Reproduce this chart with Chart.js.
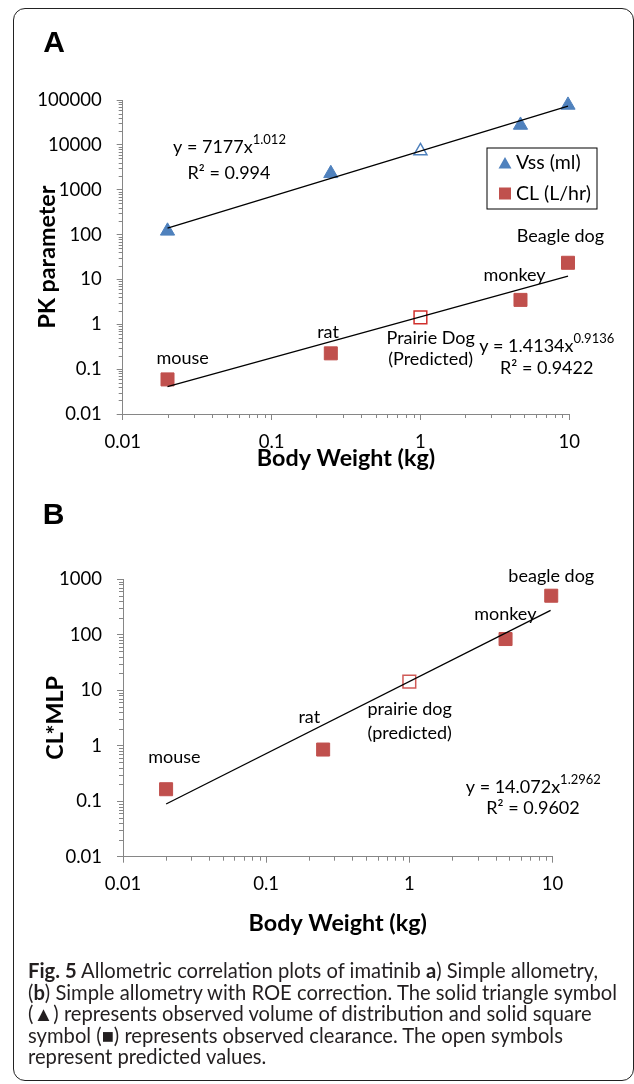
<!DOCTYPE html>
<html>
<head>
<meta charset="utf-8">
<script src="https://cdn.jsdelivr.net/npm/chart.js@4.4.1/dist/chart.umd.min.js"></script>
<style>
  html, body { margin: 0; padding: 0; background: #fff; }
  body { width: 634px; height: 1084px; position: relative; overflow: hidden; font-family: Lato, sans-serif; }
  #frame { position: absolute; left: 13px; top: 8px; width: 621px; height: 1073px; border: 1.5px solid #222; border-radius: 12px; box-sizing: border-box; }
  canvas { position: absolute; left: 0; }
  #chartA { top: 0; }
  #chartB { top: 480px; }
  #caption { position: absolute; left: 28px; top: 960px; width: 604px; font-size: 20.2px; line-height: 21.5px; color: #231f20; white-space: nowrap; }
  #caption b { font-weight: 700; }
</style>
</head>
<body>
<div id="frame"></div>
<canvas id="chartA" width="634" height="480"></canvas>
<canvas id="chartB" width="634" height="480"></canvas>
<div id="caption">
  <b>Fig. 5</b> Allometric correlation plots of imatinib <b>a</b>) Simple allometry,<br>
  (<b>b</b>) Simple allometry with ROE correction. The solid triangle symbol<br>
  (▲) represents observed volume of distribution and solid square<br>
  symbol (■) represents observed clearance. The open symbols<br>
  represent predicted values.
</div>
<script>
// axis ticks
const weightTicks = [0.01, 0.1, 1, 10];
const pkTicks = [0.01, 0.1, 1, 10, 100, 1000, 10000, 100000];
const mlpTicks = [0.01, 0.1, 1, 10, 100, 1000];

// observed species: mouse, rat, monkey, beagle dog (kg)
const obsWeight = [0.02, 0.25, 4.7, 9.8];
// predicted species: prairie dog (kg)
const predWeight = [1];

// panel A
const vssObs = [120, 2300, 27500, 77000];
const vssPred = [7300];
const clObs = [0.059, 0.225, 3.5, 23.5];
const clPred = [1.43];
const trendWeightA = [0.02, 9.8];
const vssTrend = [140, 73400];
const clTrend = [0.041, 11.9];

// panel B
const mlpObs = [0.164, 0.85, 83, 500];
const mlpPred = [14.2];
const trendWeightB = [0.02, 9.7];
const mlpTrend = [0.089, 272];

const BLUE = '#4F81BD';
const RED = '#C0504D';
const AXIS = '#868686';
const FONT = 'Lato, "Open Sans", sans-serif';

const pts = (xs, ys) => xs.map((x, i) => ({ x: x, y: ys[i] }));

// small unlabeled ticks between the decades, like Excel's minor ticks
const minorTicks = {
  id: 'minorTicks',
  afterDraw(chart) {
    const ctx = chart.ctx;
    ctx.save();
    ctx.strokeStyle = AXIS;
    ctx.lineWidth = 1;
    ['x', 'y'].forEach(id => {
      const s = chart.scales[id];
      const lo = Math.round(Math.log10(s.min));
      const hi = Math.round(Math.log10(s.max));
      for (let d = lo; d < hi; d++) {
        for (let k = 2; k <= 9; k++) {
          const p = Math.round(s.getPixelForValue(k * Math.pow(10, d))) + 0.5;
          ctx.beginPath();
          if (id === 'x') { ctx.moveTo(p, s.top); ctx.lineTo(p, s.top + 4); }
          else { ctx.moveTo(s.right - 4, p); ctx.lineTo(s.right, p); }
          ctx.stroke();
        }
      }
    });
    ctx.restore();
  }
};

// free text on the canvas: labels, equations, panel letter, legend
function drawText(ctx, item) {
  const base = item.font || ('18px ' + FONT);
  ctx.font = base;
  ctx.fillStyle = '#000';
  ctx.textBaseline = item.baseline || 'middle';
  if (item.sup) {
    const supFont = '13px ' + FONT;
    const w1 = ctx.measureText(item.text).width;
    ctx.font = supFont;
    const w2 = ctx.measureText(item.sup).width;
    const x0 = item.x - (w1 + w2) / 2;
    ctx.font = base;
    ctx.textAlign = 'left';
    ctx.fillText(item.text, x0, item.y);
    ctx.font = supFont;
    ctx.fillText(item.sup, x0 + w1, item.y - 7);
    return;
  }
  ctx.textAlign = item.align || 'center';
  ctx.fillText(item.text, item.x, item.y);
}

function notesPlugin(items, extra) {
  return {
    id: 'notes',
    afterDraw(chart) {
      const ctx = chart.ctx;
      ctx.save();
      items.forEach(it => drawText(ctx, it));
      if (extra) extra(ctx);
      ctx.restore();
    }
  };
}

function legendA(ctx) {
  ctx.strokeStyle = '#000';
  ctx.lineWidth = 1;
  ctx.strokeRect(487, 148, 110, 61);
  ctx.fillStyle = BLUE;
  ctx.beginPath();
  ctx.moveTo(505, 157); ctx.lineTo(511.5, 168.5); ctx.lineTo(498.5, 168.5);
  ctx.closePath(); ctx.fill();
  ctx.fillStyle = RED;
  ctx.fillRect(499, 187.5, 12, 12);
  drawText(ctx, { text: 'Vss (ml)', x: 516, y: 163, align: 'left', font: '19.5px ' + FONT });
  drawText(ctx, { text: 'CL (L/hr)', x: 516, y: 193.5, align: 'left', font: '19.5px ' + FONT });
}

function logAxis(ticks, min, max, title, titlePad, size, isX) {
  return {
    type: 'logarithmic',
    min: min,
    max: max,
    afterBuildTicks: s => { s.ticks = ticks.map(v => ({ value: v })); },
    afterFit: s => { if (isX) s.height = size; else s.width = size; },
    ticks: {
      callback: v => String(v),
      color: '#000',
      font: { family: FONT, size: 18.5 },
      padding: isX ? 10.5 : 15,
      autoSkip: false,
      maxRotation: 0
    },
    grid: { drawOnChartArea: false, drawTicks: true, tickLength: 6, color: AXIS },
    border: { color: AXIS, width: 1 },
    title: {
      display: true,
      text: title,
      color: '#000',
      font: { family: FONT, size: 23.3, weight: 'bold' },
      padding: titlePad
    }
  };
}

const commonOpts = {
  responsive: false,
  animation: false,
  devicePixelRatio: 1,
  plugins: { legend: { display: false }, tooltip: { enabled: false } }
};

new Chart(document.getElementById('chartA'), {
  type: 'scatter',
  data: {
    datasets: [
      { data: pts(trendWeightA, vssTrend), showLine: true, pointRadius: 0, borderColor: '#000', borderWidth: 1.3, clip: false },
      { data: pts(trendWeightA, clTrend), showLine: true, pointRadius: 0, borderColor: '#000', borderWidth: 1.3, clip: false },
      { data: pts(predWeight, vssPred), pointStyle: 'triangle', pointRadius: 7.5, backgroundColor: '#fff', borderColor: BLUE, borderWidth: 1.5, clip: false },
      { data: pts(predWeight, clPred), pointStyle: 'rect', pointRadius: 9, backgroundColor: '#fff', borderColor: '#D0302C', borderWidth: 1.5, clip: false },
      { data: pts(obsWeight, vssObs), pointStyle: 'triangle', pointRadius: 8.2, backgroundColor: BLUE, borderColor: BLUE, borderWidth: 1, clip: false },
      { data: pts(obsWeight, clObs), pointStyle: 'rect', pointRadius: 9.2, backgroundColor: RED, borderColor: RED, borderWidth: 1, clip: false }
    ]
  },
  options: Object.assign({}, commonOpts, {
    layout: { padding: { top: 100, right: 64.7, left: 0, bottom: 0 } },
    scales: {
      x: logAxis(weightTicks, 0.01, 10, 'Body Weight (kg)', { top: 0, bottom: 8 }, 66, true),
      y: logAxis(pkTicks, 0.01, 100000, 'PK parameter', { top: 33, bottom: 0 }, 122.7, false)
    }
  }),
  plugins: [minorTicks, notesPlugin([
    { text: 'A', x: 54, y: 52, baseline: 'alphabetic', font: 'bold 30px "Liberation Sans", Arial, sans-serif' },
    { text: 'y = 7177x', sup: '1.012', x: 229.5, y: 147 },
    { text: 'R² = 0.994', x: 229, y: 173 },
    { text: 'y = 1.4134x', sup: '0.9136', x: 546.7, y: 346 },
    { text: 'R² = 0.9422', x: 546.7, y: 368.5 },
    { text: 'mouse', x: 182.7, y: 358.3 },
    { text: 'rat', x: 328, y: 331.7 },
    { text: 'Prairie Dog', x: 430.7, y: 337.7 },
    { text: '(Predicted)', x: 430.7, y: 359 },
    { text: 'monkey', x: 514.5, y: 275 },
    { text: 'Beagle dog', x: 560.5, y: 236.5 }
  ], legendA)]
});

new Chart(document.getElementById('chartB'), {
  type: 'scatter',
  data: {
    datasets: [
      { data: pts(trendWeightB, mlpTrend), showLine: true, pointRadius: 0, borderColor: '#000', borderWidth: 1.3, clip: false },
      { data: pts(predWeight, mlpPred), pointStyle: 'rect', pointRadius: 9, backgroundColor: '#fff', borderColor: '#D05A57', borderWidth: 1.5, clip: false },
      { data: pts(obsWeight, mlpObs), pointStyle: 'rect', pointRadius: 9.2, backgroundColor: RED, borderColor: RED, borderWidth: 1, clip: false }
    ]
  },
  options: Object.assign({}, commonOpts, {
    layout: { padding: { top: 99, right: 81.5, left: 0, bottom: 0 } },
    scales: {
      x: logAxis(weightTicks, 0.01, 10, 'Body Weight (kg)', { top: 0, bottom: 23 }, 103.3, true),
      y: logAxis(mlpTicks, 0.01, 1000, 'CL*MLP', { top: 41, bottom: 0 }, 123, false)
    }
  }),
  plugins: [minorTicks, notesPlugin([
    { text: 'B', x: 53.5, y: 44.3, baseline: 'alphabetic', font: 'bold 30px "Liberation Sans", Arial, sans-serif' },
    { text: 'y = 14.072x', sup: '1.2962', x: 533.3, y: 306.7 },
    { text: 'R² = 0.9602', x: 533, y: 328.3 },
    { text: 'beagle dog', x: 551.3, y: 95.7 },
    { text: 'monkey', x: 505.3, y: 134 },
    { text: 'prairie dog', x: 409.7, y: 229.3 },
    { text: '(predicted)', x: 409.7, y: 252.7 },
    { text: 'rat', x: 309.3, y: 236.7 },
    { text: 'mouse', x: 174.3, y: 277.3 }
  ])]
});
</script>
</body>
</html>
